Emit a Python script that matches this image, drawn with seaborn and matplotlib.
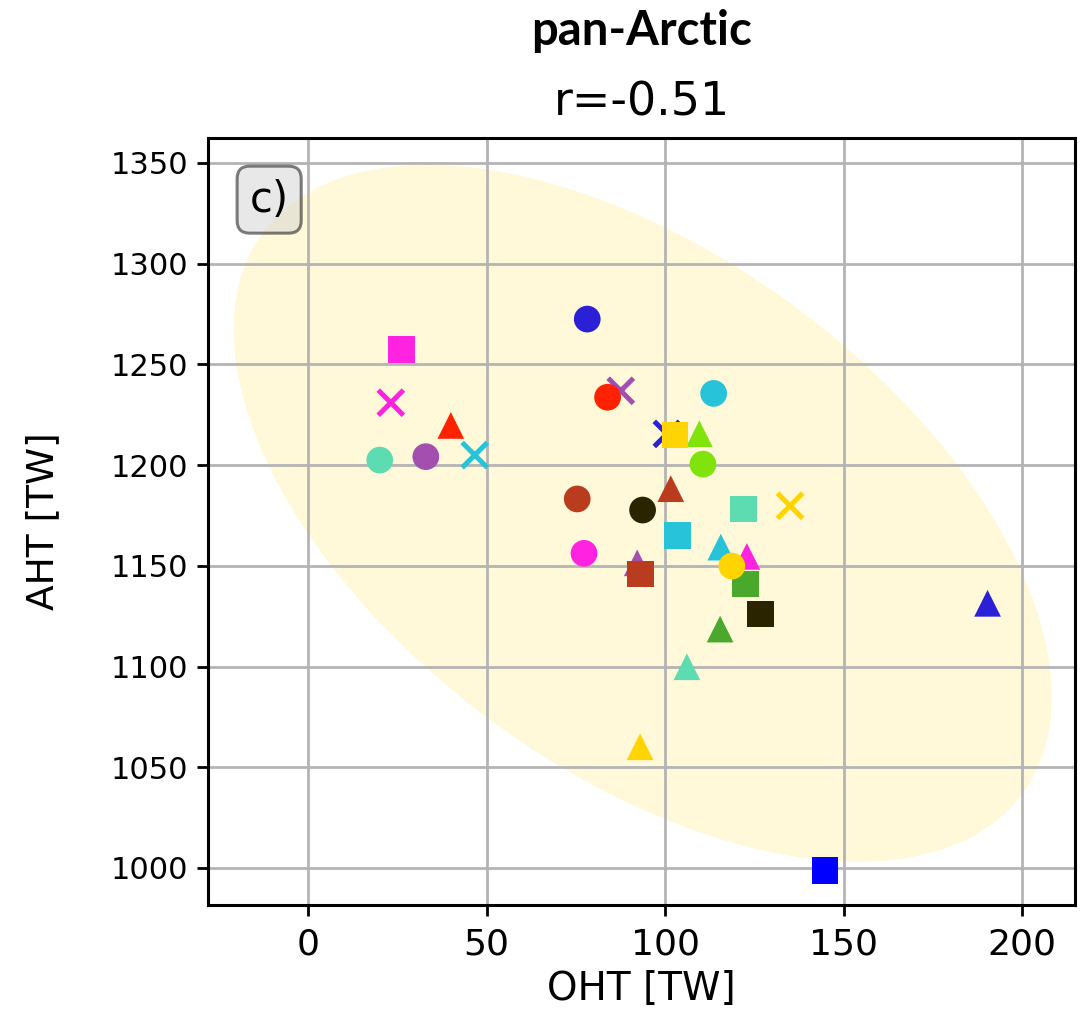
import numpy as np
import pandas as pd
import matplotlib
matplotlib.use("Agg")
import matplotlib.pyplot as plt
import matplotlib.transforms as transforms
from matplotlib.patches import Ellipse
import seaborn as sns

# Colour of each model family
palette = {
    "blue": "#2b20d6", "red": "#ff2200", "cyan": "#26c3d9", "lime": "#80e40c",
    "brown": "#b93c1f", "black": "#2a2400", "magenta": "#ff22e0", "gold": "#ffd400",
    "aqua": "#5ddcb2", "purple": "#a24fb0", "green": "#4aa82c", "pureblue": "#0000ff",
}

# Ocean (OHT) and atmospheric (AHT) heat transport per model, grouped by marker
circle_models = ["blue", "red", "cyan", "lime", "brown", "black", "magenta", "gold", "aqua", "purple"]
circle_oht = [78.2, 83.9, 113.6, 110.6, 75.4, 93.7, 77.3, 118.7, 20.1, 33.0]
circle_aht = [1272.5, 1233.7, 1235.6, 1200.5, 1183.2, 1177.7, 1156.2, 1149.9, 1202.5, 1204.2]

square_models = ["magenta", "gold", "aqua", "cyan", "brown", "green", "black", "pureblue"]
square_oht = [26.2, 102.8, 122.0, 103.4, 93.2, 122.6, 126.8, 144.8]
square_aht = [1257.5, 1215.0, 1178.2, 1165.0, 1145.9, 1141.0, 1126.1, 998.9]

triangle_models = ["red", "lime", "brown", "cyan", "magenta", "purple", "green", "aqua", "gold", "blue"]
triangle_oht = [40.0, 109.6, 101.6, 115.6, 122.9, 92.2, 115.4, 106.1, 93.0, 190.3]
triangle_aht = [1219.7, 1215.6, 1188.3, 1159.3, 1154.7, 1151.5, 1118.6, 1099.9, 1060.2, 1131.4]

cross_models = ["magenta", "cyan", "purple", "blue", "gold"]
cross_oht = [23.2, 46.7, 87.6, 100.5, 135.0]
cross_aht = [1231.0, 1205.0, 1236.9, 1215.5, 1179.8]

region = "pan-Arctic"
corr_label = "r=-0.51"
panel_label = "c)"
x_ticks = [0, 50, 100, 150, 200]
y_ticks = [1000, 1050, 1100, 1150, 1200, 1250, 1300, 1350]

frames = []
for shape, models, oht, aht in [
    ("x", cross_models, cross_oht, cross_aht),
    ("^", triangle_models, triangle_oht, triangle_aht),
    ("s", square_models, square_oht, square_aht),
    ("o", circle_models, circle_oht, circle_aht),
]:
    frames.append(pd.DataFrame({"model": models, "OHT": oht, "AHT": aht, "marker": shape}))
df = pd.concat(frames, ignore_index=True)

plt.rcParams["font.family"] = ["DejaVu Sans"]

fig = plt.figure(figsize=(10.81, 10.23), dpi=100)
ax = fig.add_axes([0.1924, 0.1153, 0.8021, 0.7498])


def confidence_ellipse(x, y, ax, n_std=3.0, **kwargs):
    cov = np.cov(x, y)
    pearson = cov[0, 1] / np.sqrt(cov[0, 0] * cov[1, 1])
    rx = np.sqrt(1 + pearson)
    ry = np.sqrt(1 - pearson)
    ell = Ellipse((0, 0), width=rx * 2, height=ry * 2, **kwargs)
    scale_x = np.sqrt(cov[0, 0]) * n_std
    scale_y = np.sqrt(cov[1, 1]) * n_std
    tr = (transforms.Affine2D().rotate_deg(45).scale(scale_x, scale_y)
          .translate(np.mean(x) - 1.0, np.mean(y)))
    ell.set_transform(tr + ax.transData)
    return ax.add_patch(ell)


confidence_ellipse(df["OHT"].values, df["AHT"].values, ax, n_std=3.06,
                   facecolor="gold", edgecolor="none", alpha=0.15, zorder=1)

for shape in ["x", "^", "s", "o"]:
    sub = df[df["marker"] == shape]
    if shape == "x":
        sns.scatterplot(data=sub, x="OHT", y="AHT", hue="model", palette=palette,
                        marker="x", s=330, linewidth=3.6, legend=False, ax=ax, zorder=3)
    else:
        sns.scatterplot(data=sub, x="OHT", y="AHT", hue="model", palette=palette,
                        marker=shape, s=370, linewidth=0, edgecolor="face",
                        legend=False, ax=ax, zorder=3)

ax.set_xlim(-28, 214.8)
ax.set_ylim(981.6, 1362.4)
ax.set_xticks(x_ticks)
ax.set_yticks(y_ticks)
ax.grid(True, color="#b4b4b4", linewidth=2.0, zorder=2)
ax.set_axisbelow(False)
for coll in ax.collections:
    coll.set_zorder(3)
ax.tick_params(axis="x", labelsize=26, length=8, width=2, pad=8)
ax.tick_params(axis="y", labelsize=22, length=8, width=2, pad=6)
for sp in ax.spines.values():
    sp.set_linewidth(2.2)
    sp.set_color("black")
    sp.set_zorder(4)

ax.set_xlabel("OHT [TW]", fontsize=28, labelpad=6)
ax.set_ylabel("AHT [TW]", fontsize=27, labelpad=36)

ax.text(0.5, 1.0287, corr_label, transform=ax.transAxes, ha="center", va="baseline",
        fontsize=33)
ax.text(0.5, 1.121, region, transform=ax.transAxes, ha="center", va="baseline",
        fontsize=34, fontweight="bold", family=["Lato", "DejaVu Sans"])

ax.text(0.048, 0.947, panel_label, transform=ax.transAxes, ha="left", va="top",
        fontsize=30, zorder=5,
        bbox=dict(boxstyle="round,pad=0.3", facecolor="lightgrey", alpha=0.5,
                  linewidth=2.2))

fig.savefig("out.png", dpi=100)
